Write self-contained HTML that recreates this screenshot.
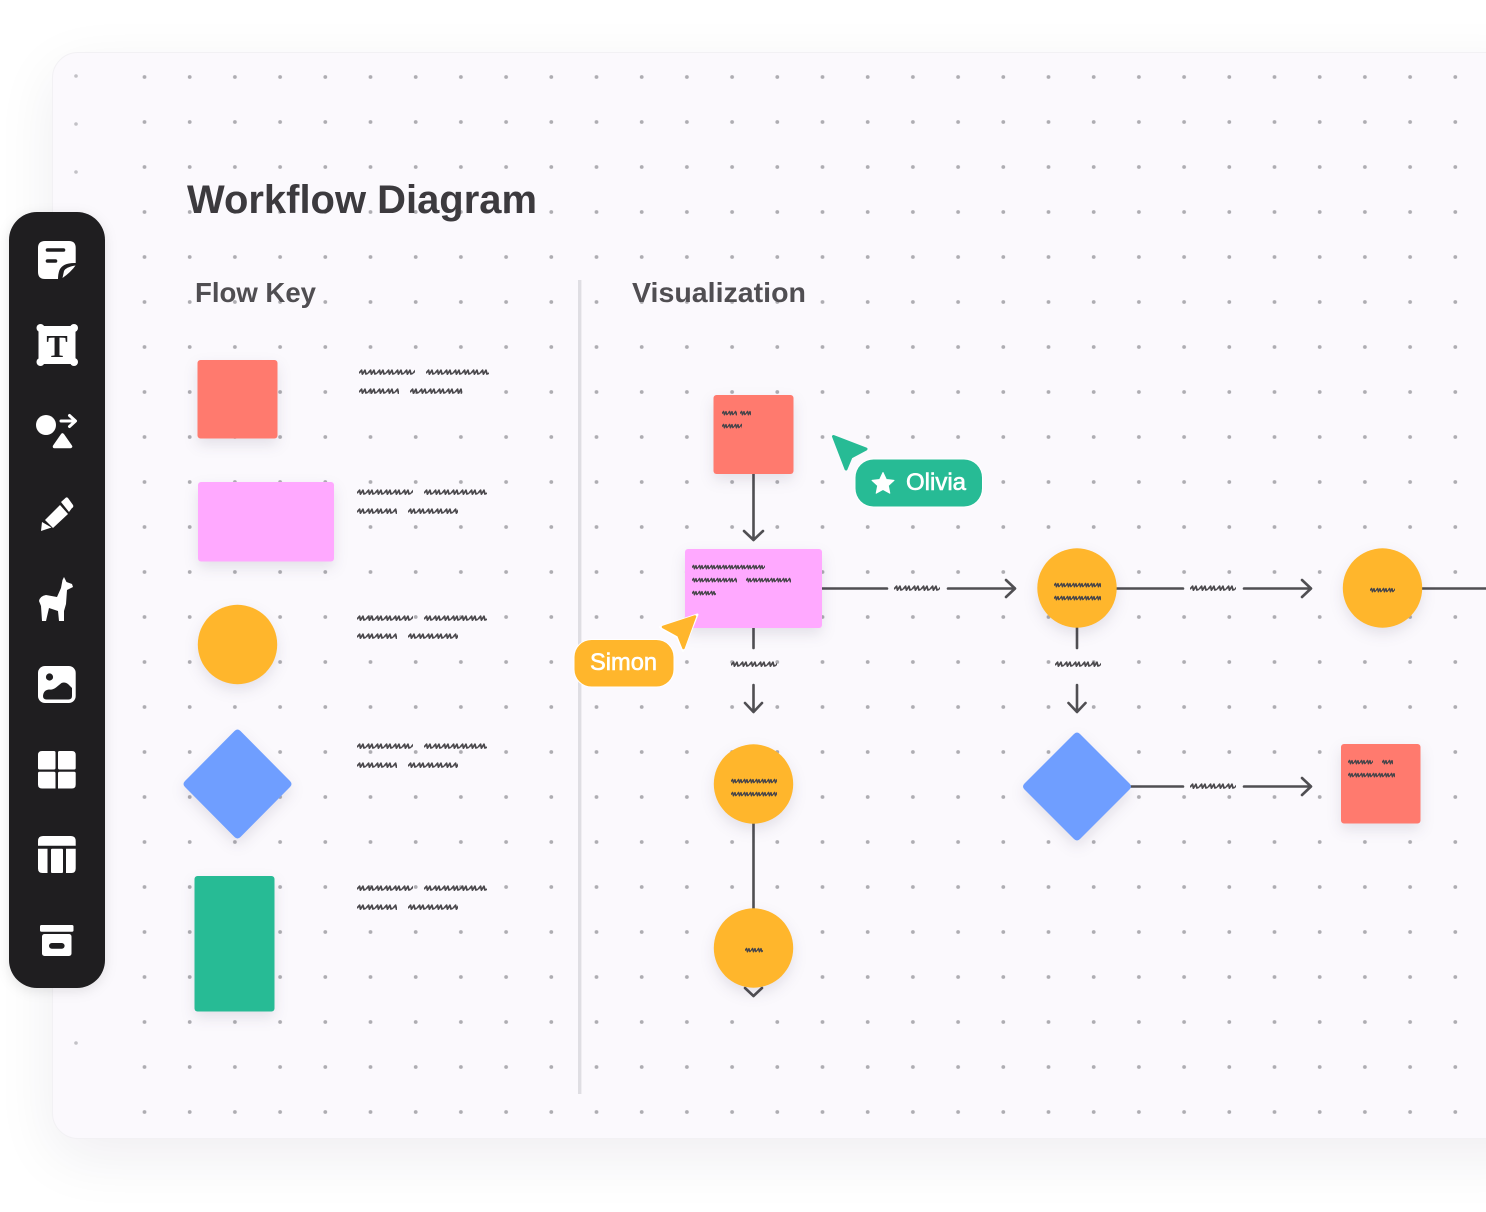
<!DOCTYPE html>
<html lang="en">
<head>
<meta charset="utf-8">
<title>Workflow Diagram</title>
<style>
html,body{margin:0;padding:0;background:#fff}
body{width:1486px;height:1212px;overflow:hidden;position:relative}
#board{position:absolute;left:52px;top:52px;width:1500px;height:1087px;box-sizing:border-box;background:#fbf9fd;border:1px solid #f2f1f4;border-radius:26px;box-shadow:0 18px 60px rgba(30,20,50,.07)}
svg#art{position:absolute;left:0;top:0}
text{font-family:"Liberation Sans",sans-serif}
.n{filter:drop-shadow(0 6px 7px rgba(40,30,60,.11))}
.c{stroke:#504f53;stroke-width:2.6;fill:none;stroke-linecap:round;stroke-linejoin:round}
</style>
</head>
<body>
<div id="board"></div>
<svg id="art" width="1486" height="1212" viewBox="0 0 1486 1212" xmlns="http://www.w3.org/2000/svg">
<defs>
<pattern id="dots" width="45.2" height="45" patternUnits="userSpaceOnUse" patternTransform="translate(121.9 54.5)">
<circle cx="22.6" cy="22.5" r="1.9" fill="#aeadb2"/>
</pattern>
<pattern id="s" width="9" height="10" patternUnits="userSpaceOnUse">
<path d="M0 6.2L2.6 3.2L3.4 7.2L6 3.2L6.9 7L9 6.2" fill="none" stroke="#4a484c" stroke-width="1.7" stroke-linejoin="round"/>
</pattern>
<pattern id="t" width="6" height="8" patternUnits="userSpaceOnUse">
<path d="M0 4.6L1.6 2.4L2.4 5.8L4 2.6L4.8 5.6L6 4.6" fill="none" stroke="#47454a" stroke-width="1.4" stroke-linejoin="round"/>
</pattern>
</defs>

<!-- grid -->
<rect x="122" y="55" width="1364" height="1075" fill="url(#dots)"/>
<g fill="#c2c1c6"><circle cx="76" cy="76" r="1.8"/><circle cx="76" cy="124" r="1.8"/><circle cx="76" cy="172" r="1.8"/><circle cx="76" cy="1043" r="1.8"/></g>

<!-- headings -->
<text x="187" y="213" font-size="40" font-weight="700" fill="#3c3a3e" textLength="350" lengthAdjust="spacingAndGlyphs">Workflow Diagram</text>
<text x="195" y="302" font-size="28" font-weight="700" fill="#504e52" textLength="121" lengthAdjust="spacingAndGlyphs">Flow Key</text>
<text x="632" y="302" font-size="28" font-weight="700" fill="#504e52" textLength="174" lengthAdjust="spacingAndGlyphs">Visualization</text>

<!-- divider -->
<rect x="578" y="280" width="3.4" height="814" fill="#dfdee3"/>

<!-- flow key shapes -->
<g class="n"><rect x="197.500" y="360" width="80" height="78.500" rx="3" fill="#ff7a6e"/></g>
<g class="n"><rect x="198" y="482" width="136" height="79.500" rx="3" fill="#ffa9ff"/></g>
<g class="n"><circle cx="237.500" cy="644.500" r="39.700" fill="#ffb62c"/></g>
<g class="n"><path d="M234.500 731Q237.500 728 240.500 731L290 781Q293 784 290 787L240.500 837Q237.500 840 234.500 837L185 787Q182 784 185 781Z" fill="#6f9eff"/></g>
<g class="n"><rect x="194.500" y="876" width="80" height="135.500" rx="3" fill="#27bb95"/></g>

<!-- flow key scribbles -->
<svg x="359" y="367" width="56" height="10"><rect width="56" height="10" fill="url(#s)"/></svg>
<svg x="426" y="367" width="63" height="10"><rect width="63" height="10" fill="url(#s)"/></svg>
<svg x="359" y="386" width="40" height="10"><rect width="40" height="10" fill="url(#s)"/></svg>
<svg x="410" y="386" width="52" height="10"><rect width="52" height="10" fill="url(#s)"/></svg>

<svg x="357" y="487" width="56" height="10"><rect width="56" height="10" fill="url(#s)"/></svg>
<svg x="424" y="487" width="63" height="10"><rect width="63" height="10" fill="url(#s)"/></svg>
<svg x="357" y="506" width="40" height="10"><rect width="40" height="10" fill="url(#s)"/></svg>
<svg x="408" y="506" width="50" height="10"><rect width="50" height="10" fill="url(#s)"/></svg>

<svg x="357" y="613" width="56" height="10"><rect width="56" height="10" fill="url(#s)"/></svg>
<svg x="424" y="613" width="63" height="10"><rect width="63" height="10" fill="url(#s)"/></svg>
<svg x="357" y="631" width="40" height="10"><rect width="40" height="10" fill="url(#s)"/></svg>
<svg x="408" y="631" width="50" height="10"><rect width="50" height="10" fill="url(#s)"/></svg>

<svg x="357" y="741" width="56" height="10"><rect width="56" height="10" fill="url(#s)"/></svg>
<svg x="424" y="741" width="63" height="10"><rect width="63" height="10" fill="url(#s)"/></svg>
<svg x="357" y="760" width="40" height="10"><rect width="40" height="10" fill="url(#s)"/></svg>
<svg x="408" y="760" width="50" height="10"><rect width="50" height="10" fill="url(#s)"/></svg>

<svg x="357" y="883" width="56" height="10"><rect width="56" height="10" fill="url(#s)"/></svg>
<svg x="424" y="883" width="63" height="10"><rect width="63" height="10" fill="url(#s)"/></svg>
<svg x="357" y="902" width="40" height="10"><rect width="40" height="10" fill="url(#s)"/></svg>
<svg x="408" y="902" width="50" height="10"><rect width="50" height="10" fill="url(#s)"/></svg>

<!-- connectors -->
<g class="c">
<path d="M753.500 474V539M744 531L753.500 540L763 531"/>
<path d="M822 588.500H887M948 588.500H1014M1006 580L1015 588.500L1006 597"/>
<path d="M1117 588.500H1183M1244 588.500H1310M1302 580L1311 588.500L1302 597"/>
<path d="M1422 588.500H1490"/>
<path d="M753.500 628V648M753.500 685V711M745 703L753.500 712L762 703"/>
<path d="M1077 628V648M1077 685V711M1068.500 703L1077 712L1085.500 703"/>
<path d="M1131 786.500H1183M1244 786.500H1310M1302 778L1311 786.500L1302 795"/>
<path d="M753.500 824V908"/>
<path d="M745 988L753.500 996L762 988"/>
</g>

<!-- connector labels -->
<svg x="894" y="583" width="46" height="10"><rect width="46" height="10" fill="url(#s)"/></svg>
<svg x="1190" y="583" width="46" height="10"><rect width="46" height="10" fill="url(#s)"/></svg>
<svg x="1190" y="781" width="46" height="10"><rect width="46" height="10" fill="url(#s)"/></svg>
<svg x="731" y="659" width="46" height="10"><rect width="46" height="10" fill="url(#s)"/></svg>
<svg x="1055" y="659" width="46" height="10"><rect width="46" height="10" fill="url(#s)"/></svg>

<!-- visualization nodes -->
<g class="n"><rect x="713.500" y="395" width="80" height="79" rx="3" fill="#ff7a6e"/></g>
<g class="n"><rect x="685" y="549" width="137" height="79" rx="3" fill="#ffa9ff"/></g>
<g class="n"><circle cx="1077" cy="588" r="39.700" fill="#ffb62c"/></g>
<g class="n"><circle cx="1382.500" cy="588" r="39.700" fill="#ffb62c"/></g>
<g class="n"><circle cx="753.500" cy="784" r="39.700" fill="#ffb62c"/></g>
<g class="n"><circle cx="753.500" cy="948" r="39.700" fill="#ffb62c"/></g>
<g class="n"><path d="M1074 734Q1077 731 1080 734L1129.500 783.500Q1132.500 786.500 1129.500 789.500L1080 839Q1077 842 1074 839L1024.500 789.500Q1021.500 786.500 1024.500 783.500Z" fill="#6f9eff"/></g>
<g class="n"><rect x="1341" y="744" width="79.500" height="79.500" rx="3" fill="#ff7a6e"/></g>

<!-- node scribbles -->
<svg x="722" y="409" width="15" height="8"><rect width="15" height="8" fill="url(#t)"/></svg>
<svg x="740" y="409" width="11" height="8"><rect width="11" height="8" fill="url(#t)"/></svg>
<svg x="722" y="422" width="20" height="8"><rect width="20" height="8" fill="url(#t)"/></svg>
<svg x="692" y="563" width="73" height="8"><rect width="73" height="8" fill="url(#t)"/></svg>
<svg x="692" y="576" width="45" height="8"><rect width="45" height="8" fill="url(#t)"/></svg>
<svg x="746" y="576" width="45" height="8"><rect width="45" height="8" fill="url(#t)"/></svg>
<svg x="692" y="589" width="24" height="8"><rect width="24" height="8" fill="url(#t)"/></svg>
<svg x="1054" y="581" width="47" height="8"><rect width="47" height="8" fill="url(#t)"/></svg>
<svg x="1054" y="594" width="47" height="8"><rect width="47" height="8" fill="url(#t)"/></svg>
<svg x="1370" y="586" width="25" height="8"><rect width="25" height="8" fill="url(#t)"/></svg>
<svg x="731" y="777" width="46" height="8"><rect width="46" height="8" fill="url(#t)"/></svg>
<svg x="731" y="790" width="46" height="8"><rect width="46" height="8" fill="url(#t)"/></svg>
<svg x="745" y="946" width="18" height="8"><rect width="18" height="8" fill="url(#t)"/></svg>
<svg x="1348" y="758" width="25" height="8"><rect width="25" height="8" fill="url(#t)"/></svg>
<svg x="1382" y="758" width="11" height="8"><rect width="11" height="8" fill="url(#t)"/></svg>
<svg x="1348" y="771" width="47" height="8"><rect width="47" height="8" fill="url(#t)"/></svg>

<!-- Olivia cursor -->
<path d="M833.500 436.500L866 449L851 457L846 469Z" fill="#27bb95" stroke="#27bb95" stroke-width="3" stroke-linejoin="round"/>
<rect x="854.500" y="458.500" width="128.500" height="49" rx="19" fill="#fff"/>
<rect x="855.500" y="459.500" width="126.500" height="47" rx="18" fill="#27bb95"/>
<path d="M883 472.500L886.300 479.500L894 480.400L888.300 485.600L889.800 493.200L883 489.400L876.200 493.200L877.700 485.600L872 480.400L879.700 479.500Z" fill="#fff" stroke="#fff" stroke-linejoin="round"/>
<text x="906" y="490" font-size="24" fill="#fff" stroke="#fff" stroke-width=".6" textLength="60" lengthAdjust="spacingAndGlyphs">Olivia</text>

<!-- Simon cursor -->
<path d="M697.500 614.500L660 627L677 637L683 651Z" fill="#fff" stroke="#fff" stroke-width="2" stroke-linejoin="round"/>
<path d="M695 616.500L663 627L678.500 635.500L683.500 648Z" fill="#ffb62c" stroke="#ffb62c" stroke-width="2.500" stroke-linejoin="round"/>
<rect x="573.500" y="639" width="101" height="48.500" rx="18" fill="#fff"/>
<rect x="574.500" y="640" width="99" height="46.500" rx="17" fill="#ffb62c"/>
<text x="590" y="670" font-size="24" fill="#fff" stroke="#fff" stroke-width=".6" textLength="67" lengthAdjust="spacingAndGlyphs">Simon</text>

<!-- toolbar -->
<rect x="9" y="212" width="96" height="776" rx="28" fill="#1f1e20" style="filter:drop-shadow(0 3px 6px rgba(0,0,0,.1))"/>
<g fill="#fff">
<!-- sticky -->
<path d="M45 241H69Q75.700 241 75.700 248V263Q63 262.500 59.500 270Q58 274 58 279H45Q38 279 38 272V248Q38 241 45 241Z"/>
<path d="M62.500 278L64 271Q66 267 75.500 265.500Q71 272 62.500 278Z"/>
<!-- text frame -->
<rect x="38.500" y="326" width="37" height="38" rx="1"/>
<circle cx="40.500" cy="328" r="4"/><circle cx="74" cy="328" r="4"/><circle cx="40.500" cy="362" r="4"/><circle cx="74" cy="362" r="4"/>
<!-- shapes -->
<circle cx="46" cy="425" r="10"/>
<path d="M62.500 435L70.500 446.500H54.500Z" stroke="#fff" stroke-width="3.500" stroke-linejoin="round"/>
<!-- pencil -->
<path d="M45 520L60 505L68 514L53 528Z"/>
<path d="M61 502L66 497.500Q67 497 68 498L73 505Q74 507 72 508L69 512Z"/>
<path d="M42 522L51.500 527.500L41 531Z"/>
<!-- llama -->
<path d="M39 601Q40 596 46 595L57 597L61 588L62.500 580L64 577L66.500 582L72 584L73 587L67 590L66 604L64 611L64 621L59 621L58 611L49 608L46 621L42 621L41 606Z"/>
<!-- image -->
<rect x="38" y="666" width="37.700" height="37" rx="7"/>
<!-- grid -->
<path d="M42 751H54Q55.500 751 55.500 752.500V768Q55.500 769.500 54 769.500H39.500Q38 769.500 38 768V755Q38 751 42 751Z"/>
<path d="M59.500 751H72Q75.700 751 75.700 755V768Q75.700 769.500 74.200 769.500H59.500Q58 769.500 58 768V752.500Q58 751 59.500 751Z"/>
<path d="M39.500 771.700H54Q55.500 771.700 55.500 773.200V788.500H42Q38 788.500 38 784.500V773.200Q38 771.700 39.500 771.700Z"/>
<path d="M59.500 771.700H74.200Q75.700 771.700 75.700 773.200V784.500Q75.700 788.500 72 788.500H58V773.200Q58 771.700 59.500 771.700Z"/>
<!-- table -->
<path d="M43 836H71Q75.700 836 75.700 841V845.700H38V841Q38 836 43 836Z"/>
<path d="M38 848.800H47.500V873H42.500Q38 873 38 868.500Z"/>
<rect x="51" y="848.800" width="12" height="24.200" rx="1"/>
<path d="M66 848.800H75.700V868.500Q75.700 873 71.500 873H66Z"/>
<!-- archive -->
<rect x="40" y="925" width="33.500" height="6.700" rx="1.500"/>
<rect x="42" y="934" width="29.500" height="22" rx="2.500"/>
</g>
<text x="57" y="357" text-anchor="middle" font-size="32" font-weight="700" fill="#1f1e20" style="font-family:'Liberation Serif',serif">T</text>
<path d="M47.500 250H63.500M47.500 261H55.500" stroke="#1f1e20" stroke-width="3.600" stroke-linecap="round" fill="none"/>
<path d="M61 421H75M69.500 415.500L75.500 421L69.500 426.500" stroke="#fff" stroke-width="3" fill="none" stroke-linecap="round" stroke-linejoin="round"/>
<circle cx="49.500" cy="677" r="3.600" fill="#1f1e20"/>
<path d="M43 696Q43.500 690 49 689.500Q53 690 56 687.500L61.500 683Q65 681.500 68 684L72 688V696Q72 699.500 68.500 699.500H46.500Q43 699.500 43 696Z" fill="#1f1e20"/>
<rect x="49" y="943" width="15.600" height="5.700" rx="2.800" fill="#1f1e20"/>
</svg>
</body>
</html>
